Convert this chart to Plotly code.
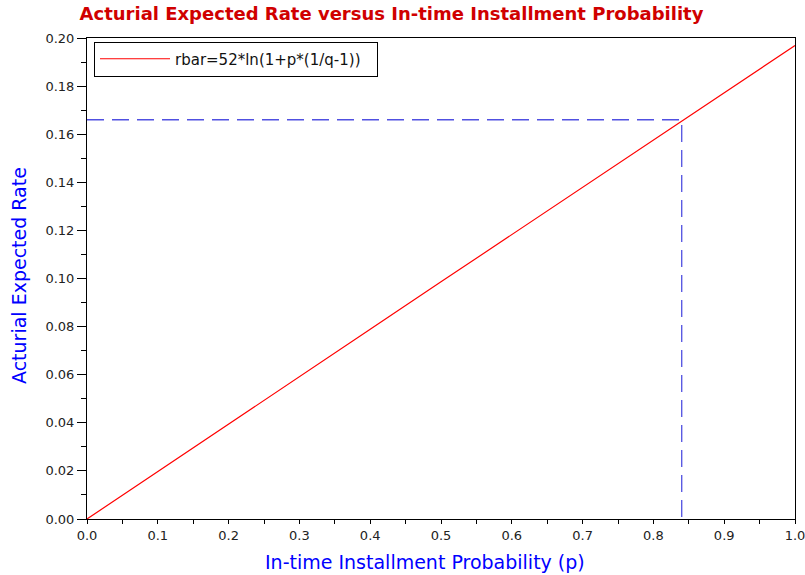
import plotly.graph_objects as go

# Data
p_vals = [0.0, 0.1, 0.2, 0.3, 0.4, 0.5, 0.6, 0.7, 0.8, 0.9, 1.0]
rbar_vals = [0.0, 0.0198, 0.0395, 0.0592, 0.0789, 0.0986, 0.1183, 0.1380, 0.1576, 0.1773, 0.1969]
p_mark = 0.84
r_mark = 0.1660

x_ticks = [0.0, 0.1, 0.2, 0.3, 0.4, 0.5, 0.6, 0.7, 0.8, 0.9, 1.0]
y_ticks = [0.00, 0.02, 0.04, 0.06, 0.08, 0.10, 0.12, 0.14, 0.16, 0.18, 0.20]

title_text = "Acturial Expected Rate versus In-time Installment Probability"
x_label = "In-time Installment Probability (p)"
y_label = "Acturial Expected Rate"
legend_label = "rbar=52*ln(1+p*(1/q-1))"

fig = go.Figure()

fig.add_trace(go.Scatter(
    x=p_vals, y=rbar_vals, mode="lines", name=legend_label,
    line=dict(color="#ff0000", width=1.2),
))

fig.add_trace(go.Scatter(
    x=[0.0, p_mark, p_mark], y=[r_mark, r_mark, 0.0], mode="lines",
    showlegend=False, hoverinfo="skip",
    line=dict(color="rgb(80,80,225)", width=1.3, dash="17px,8px"),
))

font_family = "DejaVu Sans, Verdana, sans-serif"

fig.update_layout(
    width=805, height=575,
    margin=dict(l=87, r=10, t=38, b=56),
    paper_bgcolor="white", plot_bgcolor="white",
    font=dict(family=font_family, size=13, color="#222222"),
    title=dict(
        text="<b>" + title_text + "</b>",
        font=dict(family=font_family, size=18, color="#d00000"),
        x=(391.5 - 87) / 708, xref="paper", xanchor="center",
        y=1 - 14 / 575, yref="container", yanchor="middle",
    ),
    showlegend=True,
    legend=dict(
        x=(94 - 87) / 708, y=(519 - 41.5) / 481, xanchor="left", yanchor="top",
        bgcolor="white", bordercolor="black", borderwidth=1,
        font=dict(family=font_family, size=15, color="#111111"),
        itemwidth=70, orientation="h", entrywidth=197,
        tracegroupgap=0,
    ),
    annotations=[
        dict(text=x_label, x=(425 - 87) / 708, y=-(562 - 519) / 481,
             xref="paper", yref="paper", showarrow=False,
             xanchor="center", yanchor="middle",
             font=dict(family=font_family, size=19, color="#0000ff")),
        dict(text=y_label, x=-(87 - 19) / 708, y=0.5 - (276 - 278.5) / 481,
             xref="paper", yref="paper", showarrow=False, textangle=-90,
             xanchor="center", yanchor="middle",
             font=dict(family=font_family, size=19, color="#0000ff")),
    ],
)

fig.update_xaxes(
    range=[0, 1], tickvals=x_ticks, tickformat=".1f", automargin=False,
    ticklabeloverflow="allow",
    showgrid=False, zeroline=False,
    showline=True, linecolor="black", linewidth=1, mirror=True,
    ticks="outside", ticklen=4, tickcolor="black", tickwidth=1,
    minor=dict(dtick=0.05, ticks="outside", ticklen=4, tickcolor="black", showgrid=False),
    tickfont=dict(size=13, color="#222222"),
)
fig.update_yaxes(
    range=[0, 0.2], tickvals=y_ticks, tickformat=".2f", automargin=False,
    ticklabeloverflow="allow",
    showgrid=False, zeroline=False,
    showline=True, linecolor="black", linewidth=1, mirror=True,
    ticks="outside", ticklen=9, tickcolor="black", tickwidth=1,
    minor=dict(dtick=0.01, ticks="outside", ticklen=5, tickcolor="black", showgrid=False),
    tickfont=dict(size=13, color="#222222"),
)

fig.write_html("out.html")
